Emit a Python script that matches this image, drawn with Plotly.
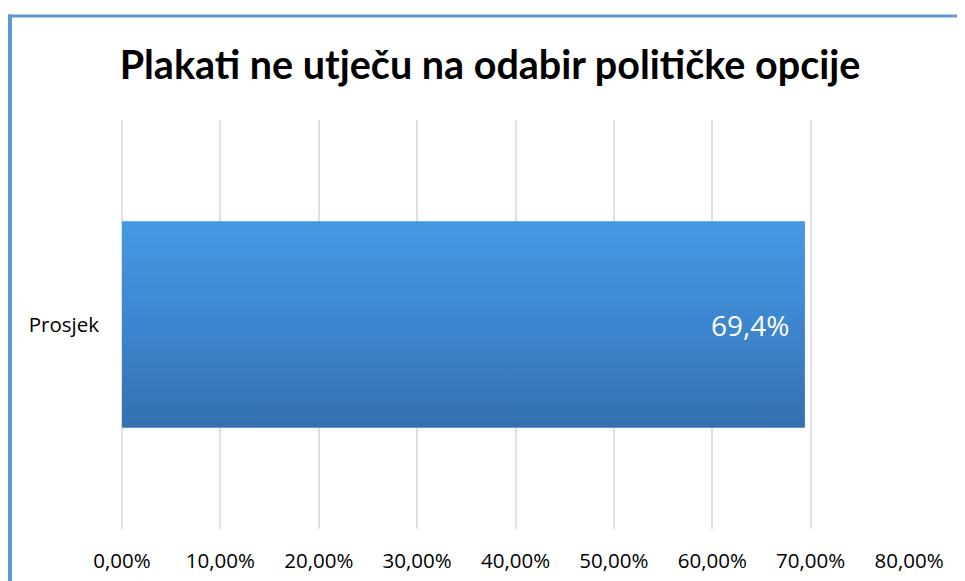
import plotly.graph_objects as go

categories = ["Prosjek"]
values = [0.694]
tick_vals = [0, 0.1, 0.2, 0.3, 0.4, 0.5, 0.6, 0.7, 0.8]
title_text = "Plakati ne utječu na odabir političke opcije"

# page body has an 8px margin, so the figure is sized to fit the window
W, H = 957, 573
ML, MR, MT, MB = 114, 56, 112, 52
PW, PH = W - ML - MR, H - MT - MB
BAR_W = 0.504

ypos = list(range(len(categories)))

fig = go.Figure()
# base bar (data)
fig.add_trace(go.Bar(
    y=ypos, x=values, orientation="h",
    marker=dict(color="#3D85CC", line=dict(width=0)),
    width=BAR_W, hoverinfo="skip",
))
# gradient overlay following the bar geometry
for yi, v in zip(ypos, values):
    y0, y1 = yi - BAR_W / 2, yi + BAR_W / 2
    fig.add_trace(go.Scatter(
        x=[0, v, v, 0, 0], y=[y0, y0, y1, y1, y0],
        mode="lines", line=dict(width=0), fill="toself",
        fillgradient=dict(type="vertical",
                          colorscale=[[0, "#3470AE"], [0.5, "#3D86CF"], [1, "#4599E3"]]),
        hoverinfo="skip",
    ))

annotations = []
for yi, v in zip(ypos, values):
    annotations.append(dict(
        x=v, y=yi, xref="x", yref="y", xanchor="right", yanchor="middle",
        xshift=-14, showarrow=False,
        text=f"{v * 100:.1f}%".replace(".", ","),
        font=dict(family="Open Sans, sans-serif", size=28, color="white"),
    ))

fig.update_layout(
    width=W, height=H,
    paper_bgcolor="white", plot_bgcolor="white",
    separators=", ",
    margin=dict(l=ML, r=MR, t=MT, b=MB, autoexpand=False),
    title=dict(text="<b>" + title_text + "</b>", x=482 / W, xanchor="center",
               y=1 - 57 / H, yanchor="middle",
               font=dict(family="Lato, sans-serif", size=39.5, color="black")),
    xaxis=dict(range=[0, 0.8], tickvals=tick_vals, tickformat=".2%",
               showgrid=True, gridcolor="#DCE1E8", gridwidth=2,
               zeroline=True, zerolinecolor="#DCE1E8", zerolinewidth=2,
               showline=False, ticks="", ticklabelstandoff=17, automargin=False,
               tickfont=dict(family="Open Sans, sans-serif", size=20.5, color="black")),
    yaxis=dict(range=[-0.5, len(categories) - 0.5], tickvals=ypos, ticktext=categories,
               showgrid=False, zeroline=False, showline=False,
               ticks="", ticklabelstandoff=22, automargin=False,
               tickfont=dict(family="Open Sans, sans-serif", size=20.5, color="black")),
    showlegend=False,
    annotations=annotations,
    shapes=[
        dict(type="line", xref="paper", yref="paper", x0=-ML / PW, x1=1 + MR / PW,
             y0=1 + (MT - 8) / PH, y1=1 + (MT - 8) / PH,
             line=dict(color="#5B9BD5", width=3)),
        dict(type="line", xref="paper", yref="paper", x0=-(ML - 2) / PW, x1=-(ML - 2) / PW,
             y0=1 + (MT - 6.5) / PH, y1=-MB / PH - 0.05,
             line=dict(color="#5B9BD5", width=4)),
    ],
)

fig.write_html("out.html")
